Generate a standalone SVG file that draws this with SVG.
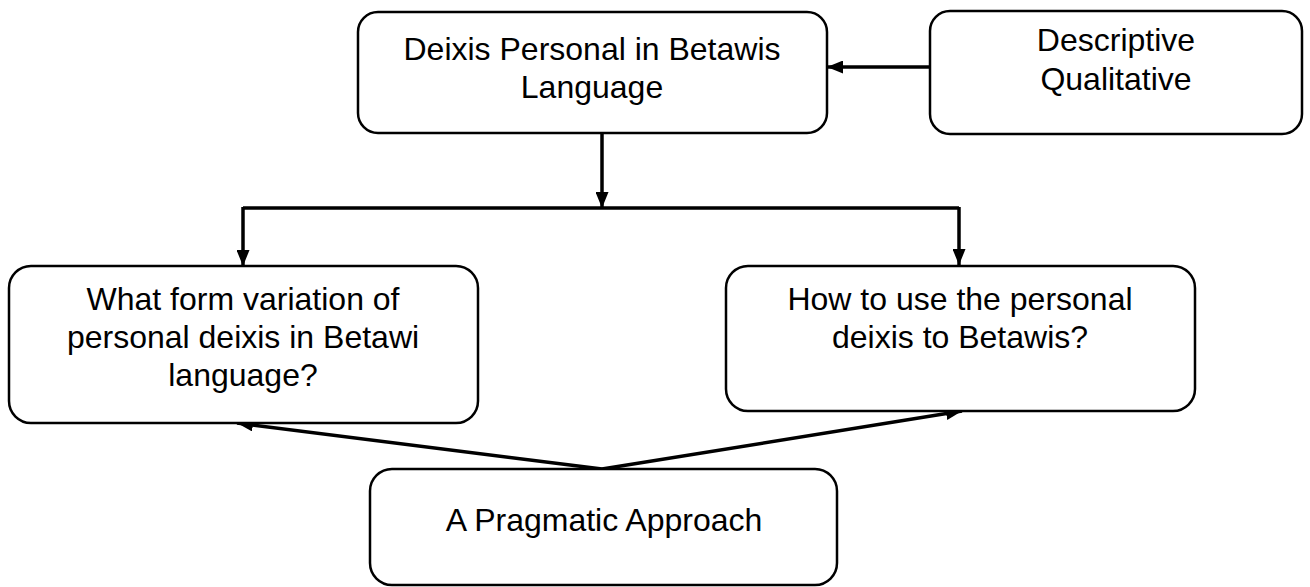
<svg xmlns="http://www.w3.org/2000/svg" width="1310" height="587" viewBox="0 0 1310 587">
<defs>
<style>
.box{fill:#fff;stroke:#000;stroke-width:2.5}
.t{font-family:"Liberation Sans",Arial,sans-serif;font-size:32px;fill:#000;text-anchor:middle}
.c{fill:none;stroke:#000;stroke-width:3.5}
</style>
<marker id="ah" viewBox="0 0 16 13" refX="16" refY="6.5" markerWidth="16" markerHeight="13" markerUnits="userSpaceOnUse" orient="auto">
<path d="M0,0 L16,6.5 L0,13 Z" fill="#000"/>
</marker>
</defs>
<rect width="1310" height="587" fill="#fff"/>
<g id="connectors">
<line class="c" x1="930" y1="67" x2="827" y2="67" marker-end="url(#ah)"/>
<line class="c" x1="602" y1="133" x2="602" y2="208" marker-end="url(#ah)"/>
<polyline class="c" points="243,208 959,208"/>
<line class="c" x1="243" y1="207" x2="243" y2="266" marker-end="url(#ah)"/>
<line class="c" x1="959" y1="207" x2="959" y2="265" marker-end="url(#ah)"/>
<line class="c" x1="602" y1="469" x2="237" y2="423" marker-end="url(#ah)"/>
<line class="c" x1="602" y1="469" x2="962" y2="411" marker-end="url(#ah)"/>
</g>
<g id="node-deixis">
<rect class="box" x="358" y="12" width="469" height="121" rx="20"/>
<text class="t" x="592" y="60">Deixis Personal in Betawis</text>
<text class="t" x="592" y="98">Language</text>
</g>
<g id="node-descriptive">
<rect class="box" x="930" y="11" width="372" height="123" rx="20"/>
<text class="t" x="1116" y="51">Descriptive</text>
<text class="t" x="1116" y="90">Qualitative</text>
</g>
<g id="node-form">
<rect class="box" x="9" y="266" width="469" height="157" rx="22"/>
<text class="t" x="243" y="310">What form variation of</text>
<text class="t" x="243" y="348">personal deixis in Betawi</text>
<text class="t" x="243" y="386">language?</text>
</g>
<g id="node-use">
<rect class="box" x="726" y="266" width="469" height="145" rx="22"/>
<text class="t" x="960" y="310">How to use the personal</text>
<text class="t" x="960" y="348">deixis to Betawis?</text>
</g>
<g id="node-pragmatic">
<rect class="box" x="370" y="469" width="467" height="116" rx="22"/>
<text class="t" x="604" y="531">A Pragmatic Approach</text>
</g>
</svg>
